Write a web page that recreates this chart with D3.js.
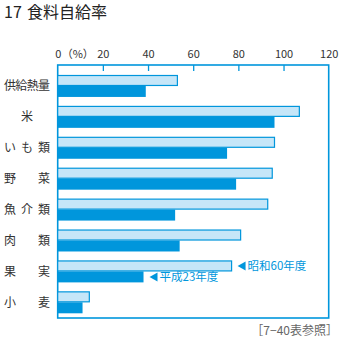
<!DOCTYPE html>
<html><head><meta charset="utf-8">
<script src="https://cdn.jsdelivr.net/npm/d3@7"></script>
<style>body{margin:0;background:#fff}svg{display:block}text{font-family:"Noto Sans CJK JP","Noto Sans",sans-serif}</style>
</head><body>
<script>
const categories = ["供給熱量","米","いも類","野菜","魚介類","肉類","果実","小麦"];
const showa60 = [53,107,96,95,93,81,77,14];
const heisei23 = [39,96,75,79,52,54,38,11];
const seriesNames = ["昭和60年度","平成23年度"];
const xTicks = [0,20,40,60,80,100,120];

const W=341,H=341, dark="#0096dc", light="#c6e6f8";
const svg=d3.select("body").append("svg").attr("width",W).attr("height",H);

svg.append("text").attr("x",4).attr("y",18).attr("font-size",16).attr("fill","#222")
  .attr("font-family","'Liberation Sans',Arial,sans-serif").text("17");
svg.append("text").attr("x",27).attr("y",18).attr("font-size",16).attr("fill","#222").text("食料自給率");

const x=d3.scaleLinear().domain([0,120]).range([57.7,328.7]);
const y=d3.scaleBand().domain(categories).range([75,313.3]).paddingInner(0.29).paddingOuter(0);
const ys=d3.scaleBand().domain(seriesNames).range([0,y.bandwidth()]);
const plotTop=65,plotBottom=318;

// axis
const ax=svg.append("g").attr("transform",`translate(0,${plotTop})`)
  .call(d3.axisTop(x).tickValues(xTicks).tickSizeInner(-6).tickSizeOuter(0).tickPadding(7).tickFormat(d3.format("d")));
ax.select(".domain").remove();
ax.selectAll(".tick line").attr("stroke",dark).attr("stroke-width",1.3).filter(d=>d===0||d===120).remove();
ax.selectAll(".tick text").attr("font-size",11).attr("fill","#333").attr("font-family","'Liberation Sans',Arial,sans-serif");
svg.append("text").attr("x",x(0)+4).attr("y",plotTop-7).attr("font-size",11).attr("fill","#333").text("（%）");

// frame
svg.append("rect").attr("x",x(0)).attr("y",plotTop).attr("width",x(120)-x(0)).attr("height",plotBottom-plotTop)
  .attr("fill","none").attr("stroke",dark).attr("stroke-width",1.6);

const g=svg.append("g");
categories.forEach((c,i)=>{
  g.append("rect").attr("x",x(0)).attr("y",y(c)+ys(seriesNames[0])+0.5)
   .attr("width",x(showa60[i])-x(0)).attr("height",ys.bandwidth()-1)
   .attr("fill",light).attr("stroke",dark).attr("stroke-width",1.2);
  g.append("rect").attr("x",x(0)).attr("y",y(c)+ys(seriesNames[1]))
   .attr("width",x(heisei23[i])-x(0)).attr("height",ys.bandwidth())
   .attr("fill",dark);
  const chars=[...c]; const cy=y(c)+y.bandwidth()/2;
  chars.forEach((ch,j)=>{
    const cx = chars.length===1 ? 27 : 10+ j*(44-10)/(chars.length-1);
    svg.append("text").attr("x",cx).attr("y",cy).attr("dy","0.36em").attr("text-anchor","middle")
      .attr("font-size",12).attr("fill","#333").text(ch);
  });
});

// annotations on 果実
const fi=categories.indexOf("果実");
const ann=[[showa60[fi],seriesNames[0]],[heisei23[fi],seriesNames[1]]];
ann.forEach(([v,name])=>{
  const cy=y("果実")+ys(name)+ys.bandwidth()/2;
  const x0=x(v)+6;
  svg.append("path").attr("d",`M${x0},${cy} L${x0+8},${cy-4.5} L${x0+8},${cy+4.5}Z`).attr("fill",dark);
  svg.append("text").attr("x",x0+10).attr("y",cy).attr("dy","0.36em").attr("font-size",11.5).attr("fill",dark).text(name);
});

svg.append("text").attr("x",338).attr("y",335).attr("text-anchor","end").attr("font-size",12).attr("fill","#666").text("［7−40表参照］");
</script>
</body></html>
